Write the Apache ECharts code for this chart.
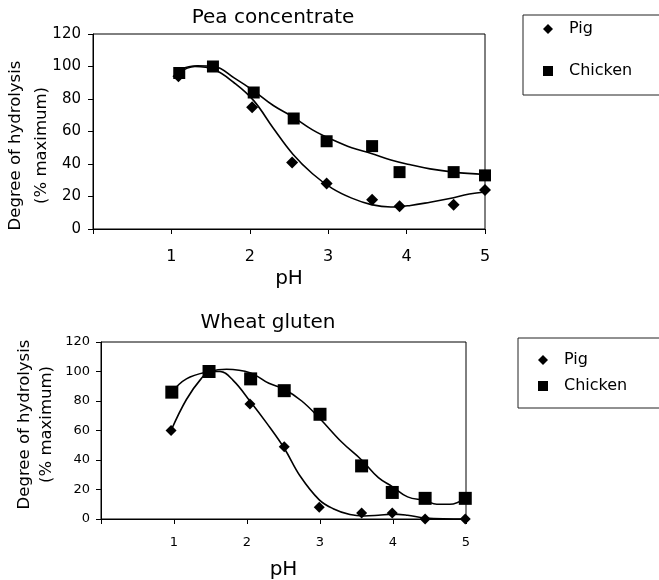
<!DOCTYPE html>
<html>
<head>
<meta charset="utf-8">
<script src="https://cdn.jsdelivr.net/npm/echarts@6/dist/echarts.min.js"></script>
<style>
  body { margin: 0; background: #fff; }
  #main { width: 659px; height: 580px; }
</style>
</head>
<body>
<div id="main"></div>
<script>
// pea concentrate - measured points
let peaPigPH = [1.09, 2.03, 2.54, 2.98, 3.56, 3.91, 4.60, 5.00]
let peaPig = [94, 75, 41, 28, 18, 14, 15, 24]
let peaChickenPH = [1.10, 1.53, 2.05, 2.56, 2.98, 3.56, 3.91, 4.60, 5.00]
let peaChicken = [96, 100, 84, 68, 54, 51, 35, 35, 33]
// pea concentrate - trend curves
let peaPigFitPH = [1.09, 1.3, 1.55, 1.8, 2.05, 2.3, 2.55, 2.8, 3.05, 3.3, 3.55, 3.8, 4.05, 4.3, 4.55, 4.8, 5.0]
let peaPigFit = [96, 100, 98, 90, 79, 62, 46, 34, 25, 19, 15, 13.5, 14.5, 16.5, 18.8, 21.5, 22.8]
let peaChickenFitPH = [1.09, 1.33, 1.55, 1.8, 2.05, 2.3, 2.55, 2.8, 3.05, 3.3, 3.55, 3.8, 4.05, 4.3, 4.6, 5.0]
let peaChickenFit = [98, 100.5, 100, 93, 85, 76, 69, 61, 55, 50, 46.5, 42.5, 39.5, 37, 35, 33.5]

// wheat gluten - measured points
let wheatPigPH = [0.96, 2.04, 2.51, 2.99, 3.57, 3.99, 4.44, 4.99]
let wheatPig = [60, 78, 49, 8, 4, 4, 0, 0]
let wheatChickenPH = [0.97, 1.48, 2.05, 2.51, 3.00, 3.57, 3.99, 4.44, 4.99]
let wheatChicken = [86, 100, 95, 87, 71, 36, 18, 14, 14]
// wheat gluten - trend curves
let wheatPigFitPH = [0.96, 1.17, 1.37, 1.5, 1.63, 1.81, 2.04, 2.27, 2.51, 2.73, 2.99, 3.18, 3.41, 3.6, 3.8, 3.99, 4.2, 4.44, 4.99]
let wheatPigFit = [60, 81, 95, 100, 100, 94, 80, 65, 48, 29, 13, 7, 3, 2, 2.5, 3.3, 2.5, 0.7, 0]
let wheatChickenFitPH = [0.97, 1.17, 1.48, 1.72, 2.05, 2.3, 2.51, 2.75, 3.0, 3.3, 3.57, 3.8, 3.99, 4.2, 4.44, 4.6, 4.78, 4.99]
let wheatChickenFit = [86, 95, 100, 101.5, 99, 92, 88, 80, 68, 52, 40, 28, 22, 15, 12.5, 10, 10, 14]

let yTicks = [0, 20, 40, 60, 80, 100, 120]
let xTicks = [1, 2, 3, 4, 5]

function pairs(xs, ys) {
    return xs.map(function (x, i) { return [x, ys[i]] })
}

window.addEventListener('load', function () {
    let chart = echarts.init(document.getElementById('main'))
    let font = 'DejaVu Sans'

    function xAx(gi, size, margin, gap) {
        return {
            gridIndex: gi, type: 'value', min: 0, max: 5, interval: 1,
            name: 'pH', nameLocation: 'middle', nameGap: gap, nameMoveOverlap: false,
            nameTextStyle: { fontFamily: font, fontSize: 20, color: '#000' },
            axisLine: { lineStyle: { color: '#000', width: 1 } },
            axisTick: { show: true, length: 5, lineStyle: { color: '#000' } },
            axisLabel: {
                margin: margin, fontFamily: font, fontSize: size, color: '#000',
                formatter: function (v) { return xTicks.indexOf(v) >= 0 ? String(v) : '' }
            },
            splitLine: { show: false }
        }
    }
    function yAx(gi, size, margin, gap, lh, pad) {
        return {
            gridIndex: gi, type: 'value', min: yTicks[0], max: yTicks[yTicks.length - 1], interval: 20,
            name: 'Degree of hydrolysis\n(% maximum)', nameLocation: 'middle', nameRotate: 90, nameGap: gap,
            nameMoveOverlap: false,
            nameTextStyle: { fontFamily: font, fontSize: 16.5, color: '#000', lineHeight: lh, padding: pad },
            axisLine: { show: true, lineStyle: { color: '#000', width: 1 } },
            axisTick: { show: true, length: 5, lineStyle: { color: '#000' } },
            axisLabel: { margin: margin, fontFamily: font, fontSize: size, color: '#000' },
            splitLine: { show: false }
        }
    }
    function legend(left, top, padding, gap) {
        return {
            left: left, top: top, orient: 'vertical',
            padding: padding, itemGap: gap, itemWidth: 10, itemHeight: 10,
            borderColor: '#222', borderWidth: 1, selectedMode: false,
            data: [{ name: 'Pig', icon: 'diamond' }, { name: 'Chicken', icon: 'rect' }],
            itemStyle: { opacity: 1 },
            textStyle: { fontFamily: font, fontSize: 16, color: '#000', lineHeight: 16, padding: [0, 0, 0, 11] }
        }
    }
    function fit(xi, data) {
        return {
            type: 'line', name: 'fit', xAxisIndex: xi, yAxisIndex: xi, data: data,
            smooth: 0.4, showSymbol: false, silent: true,
            lineStyle: { color: '#000', width: 1.6 }
        }
    }
    function pts(xi, name, sym, size, data) {
        return {
            type: 'scatter', name: name, xAxisIndex: xi, yAxisIndex: xi, data: data,
            symbol: sym, symbolSize: size, itemStyle: { color: '#000', opacity: 1 }
        }
    }

    let option = {
        animation: false,
        title: [
            { text: 'Pea concentrate', left: 273, top: 8, textAlign: 'center', padding: 0,
              textStyle: { fontFamily: font, fontSize: 20, fontWeight: 'normal', color: '#000' } },
            { text: 'Wheat gluten', left: 268, top: 313, textAlign: 'center', padding: 0,
              textStyle: { fontFamily: font, fontSize: 20, fontWeight: 'normal', color: '#000' } }
        ],
        legend: [
            legend(523, 15, [6, 150, 16, 20], 26),
            legend(518, 338, [14, 150, 14, 20], 10)
        ],
        grid: [
            { left: 93, top: 34, width: 392, height: 195, show: true, borderColor: '#000', borderWidth: 1, outerBoundsMode: 'none' },
            { left: 101, top: 342, width: 365, height: 177, show: true, borderColor: '#000', borderWidth: 1, outerBoundsMode: 'none' }
        ],
        xAxis: [xAx(0, 16, 20, 40), xAx(1, 13, 17, 41)],
        yAxis: [yAx(0, 15, 12, 38, 26, [0, 28, 0, 0]), yAx(1, 13, 11, 43, 22, [0, 0, 0, 12])],
        series: [
            fit(0, pairs(peaPigFitPH, peaPigFit)),
            fit(0, pairs(peaChickenFitPH, peaChickenFit)),
            pts(0, 'Pig', 'diamond', 12, pairs(peaPigPH, peaPig)),
            pts(0, 'Chicken', 'rect', 12, pairs(peaChickenPH, peaChicken)),
            fit(1, pairs(wheatPigFitPH, wheatPigFit)),
            fit(1, pairs(wheatChickenFitPH, wheatChickenFit)),
            pts(1, 'Pig', 'diamond', 11, pairs(wheatPigPH, wheatPig)),
            pts(1, 'Chicken', 'rect', 13, pairs(wheatChickenPH, wheatChicken))
        ]
    }
    chart.setOption(option)
})
</script>
</body>
</html>
